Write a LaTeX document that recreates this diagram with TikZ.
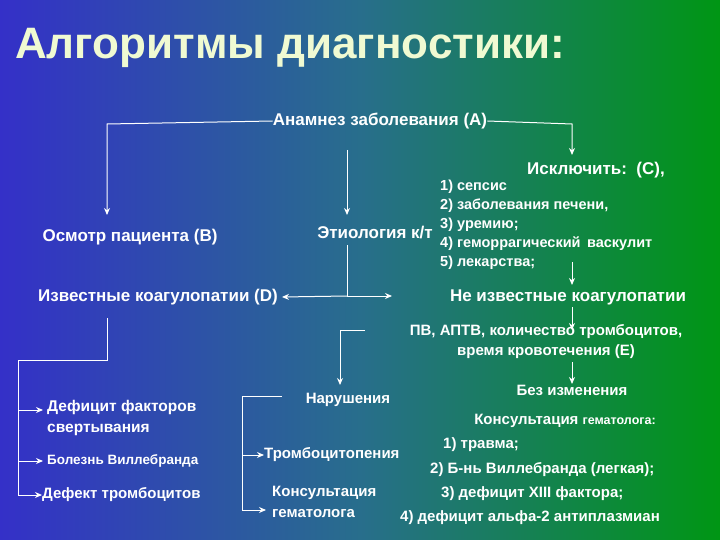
\documentclass[tikz,border=0pt]{standalone}
\usepackage{fontspec}
\setmainfont{Liberation Sans}
\usetikzlibrary{arrows.meta}
\definecolor{bgl}{RGB}{52,48,200}
\definecolor{bgm}{RGB}{40,110,140}
\definecolor{bgr}{RGB}{0,150,20}
\definecolor{ttl}{RGB}{240,250,210}
\tikzset{x=1pt,y=-1pt,
 t/.style={text=white,font=\bfseries\fontsize{17}{19}\selectfont,inner sep=0pt},
 s/.style={text=white,font=\bfseries\fontsize{15}{17}\selectfont,inner sep=0pt},
 tt/.style={font=\bfseries\fontsize{44}{48}\selectfont,inner sep=0pt},
 ln/.style={draw=white,line width=1pt},
 ar/.style={ln,-{Stealth[length=7pt,width=6pt]}}}
\begin{document}
\begin{tikzpicture}
\useasboundingbox (0,0) rectangle (720,540);
\shade[left color=bgl,right color=bgr,middle color=bgm] (0,0) rectangle (720,540);
\node[tt,text=ttl] (title) at (290,48) {Алгоритмы диагностики:};
\node[t] (A) at (380,121) {Анамнез заболевания (А)};
\node[t] (B) at (130,237) {Осмотр пациента (В)};
\node[t,anchor=east] (Et) at (433,233) {Этиология к/т};
\node[t] (C) at (596,170) {Исключить:\ \ (С),};
\node[s,anchor=north west,align=left,font=\bfseries\fontsize{14.5}{19}\selectfont] (Cl) at (440,180) {1) сепсис\\2) заболевания печени,\\3) уремию;\\4) геморрагический\,  васкулит\\5) лекарства;};
\node[t] (D) at (158,297) {Известные коагулопатии (D)};
\node[t] (N) at (568,297) {Не известные коагулопатии};
\node[s,align=center,font=\bfseries\fontsize{15}{20}\selectfont] (E) at (546,342) {ПВ, АПТВ, количество тромбоцитов,\\ время кровотечения (Е)};
\node[s] (Nar) at (348,400) {Нарушения};
\node[s] (Bez) at (572,390) {Без изменения};
\node[s] (K) at (565,421) {Консультация {\fontsize{12.5}{14}\selectfont гематолога:}};
\node[s,anchor=west] (k1) at (443,445) {1) травма;};
\node[s,anchor=west] (k2) at (430,470) {2) Б-нь Виллебранда (легкая);};
\node[s,anchor=west] (k3) at (441,494) {3) дефицит XIII фактора;};
\node[s,anchor=west] (k4) at (400,518) {4) дефицит альфа-2 антиплазмиан};
\node[s,anchor=west,align=left,font=\bfseries\fontsize{15.5}{21}\selectfont] (Df) at (47,418) {Дефицит факторов\\свертывания};
\node[s,anchor=west,font=\bfseries\fontsize{13.5}{15}\selectfont] (Bo) at (47,461) {Болезнь Виллебранда};
\node[s,anchor=west] (De) at (42,495) {Дефект тромбоцитов};
\node[s,anchor=west] (Tr) at (264,455) {Тромбоцитопения};
\node[s,anchor=west,align=left,font=\bfseries\fontsize{15}{21}\selectfont] (Ko) at (272,502) {Консультация\\гематолога};
% connectors
\coordinate (b0) at (107,215);
\draw[ar] (A.west) -- (107,124) -- (b0);
\coordinate (c0) at (572,155);
\draw[ar] (A.east) -- (572,124) -- (c0);
\coordinate (e0) at (347,215);
\draw[ar] (347,150) -- (e0);
\coordinate (j) at (347,296);
\draw[ln] (347,245) -- (j);
\draw[ar] (j) -- ([xshift=4pt]D.east);
\coordinate (n0) at (392,296);
\draw[ar] (j) -- (n0);
\coordinate (n1) at (572,285);
\draw[ar] (572,262) -- (n1);
\coordinate (e1) at (572,330);
\draw[ar] (572,307) -- (e1);
\coordinate (r0) at (340,385);
\draw[ln] (365,330) -- (340,330);
\draw[ar] (340,330) -- (r0);
\coordinate (z0) at (572,384);
\draw[ar] (572,362) -- (z0);
\draw[ln] (107,318) -- (107,360) -- (18,360) -- (18,495);
\draw[ar] (18,410) -- ([xshift=-4pt]Df.west |- 0,410);
\draw[ar] (18,461) -- ([xshift=-4pt]Bo.west);
\draw[ar] (18,495) -- (De.west);
\draw[ln] (282,396) -- (242,396) -- (242,510);
\draw[ar] (242,455) -- (Tr.west);
\coordinate (k0) at (266,510);
\draw[ar] (242,510) -- (k0);
\end{tikzpicture}
\end{document}
